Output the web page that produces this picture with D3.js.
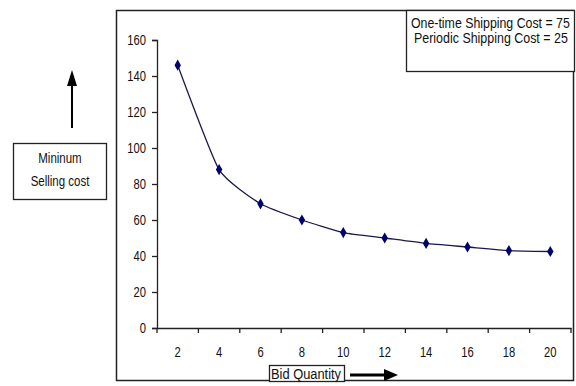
<!DOCTYPE html>
<html><head><meta charset="utf-8">
<script src="https://cdn.jsdelivr.net/npm/d3@7"></script>
<style>
html,body{margin:0;padding:0;background:#fff;}
svg text{font-family:"Liberation Sans","Arial",sans-serif;fill:#111;}
</style></head>
<body><svg id="c" width="576" height="386"></svg>
<script>
const categories = ["2","4","6","8","10","12","14","16","18","20"];
const values = [146, 88, 69, 60, 53, 50, 47, 45, 43, 42.5];
const yTicks = [0,20,40,60,80,100,120,140,160];
const legendLines = ["One-time Shipping Cost = 75","Periodic Shipping Cost = 25"];
const yLabelLines = ["Mininum","Selling cost"];
const xLabel = "Bid Quantity";

const svg = d3.select("#c");
const m = {left:157, right:571, top:40, bottom:328};
const FS = 14;

function condense(sel, k){
  sel.each(function(){
    const L = this.getComputedTextLength();
    d3.select(this).attr("textLength", L*k).attr("lengthAdjust","spacingAndGlyphs");
  });
}

// outer chart border
svg.append("rect").attr("x",116.5).attr("y",10.5).attr("width",457).attr("height",370)
  .attr("fill","none").attr("stroke","#222").attr("stroke-width",1.5);

const x = d3.scaleBand().domain(categories).range([m.left,m.right]);
const y = d3.scaleLinear().domain([0,160]).range([m.bottom,m.top]);

// y axis
const ya = svg.append("g").attr("transform",`translate(${m.left},0)`)
  .call(d3.axisLeft(y).tickValues(yTicks).tickSize(5).tickPadding(6));
ya.selectAll("text").attr("font-size",FS).call(condense,0.8);
ya.selectAll("path,line").attr("stroke","#222").attr("stroke-width",1.3);

// x axis
const xa = svg.append("g").attr("transform",`translate(0,${m.bottom})`)
  .call(d3.axisBottom(x).tickSize(0).tickPadding(19));
xa.selectAll("text").attr("font-size",FS).call(condense,0.8);
xa.select("path").attr("stroke","#222").attr("stroke-width",1.3);
const bounds = categories.map(c=>x(c)).concat([m.right]);
xa.selectAll("line.b").data(bounds).join("line").attr("class","b")
  .attr("x1",d=>d).attr("x2",d=>d).attr("y1",0).attr("y2",5)
  .attr("stroke","#222").attr("stroke-width",1.3);

// line
const pts = categories.map((c,i)=>[x(c)+x.bandwidth()/2, y(values[i])]);
svg.append("path").datum(pts)
  .attr("d", d3.line().curve(d3.curveCardinal.tension(0.5)))
  .attr("fill","none").attr("stroke","#1a1a4a").attr("stroke-width",1.3);
svg.selectAll("path.m").data(pts).join("path").attr("class","m")
  .attr("transform",d=>`translate(${d[0]},${d[1]})`)
  .attr("d", d3.symbol(d3.symbolDiamond,36))
  .attr("fill","#000070");

// legend box
svg.append("rect").attr("x",406.5).attr("y",10.5).attr("width",168).attr("height",61)
  .attr("fill","#fff").attr("stroke","#222").attr("stroke-width",1.3);
const lgX = [411,414], lgW = [159,154];
svg.selectAll("text.lg").data(legendLines).join("text").attr("class","lg")
  .attr("font-size",FS).text(d=>d)
  .each(function(d,i){
    const L = this.getComputedTextLength();
    d3.select(this).attr("transform",`translate(${lgX[i]},${28+i*15}) scale(${lgW[i]/L},1)`);
  });

// left label box + arrow
svg.append("rect").attr("x",13.5).attr("y",143.5).attr("width",93).attr("height",56)
  .attr("fill","#fff").attr("stroke","#222").attr("stroke-width",1.3);
svg.selectAll("text.yl").data(yLabelLines).join("text").attr("class","yl")
  .attr("x",60).attr("y",(d,i)=>163+i*23).attr("text-anchor","middle").attr("font-size",FS).text(d=>d)
  .call(condense,0.82);
svg.append("line").attr("x1",72).attr("x2",72).attr("y1",128).attr("y2",82)
  .attr("stroke","#000").attr("stroke-width",2);
svg.append("path").attr("d","M72,70 L67,86 L77,86 Z").attr("fill","#000");

// bottom label box + arrow
svg.append("rect").attr("x",269.5).attr("y",365.5).attr("width",75).attr("height",16)
  .attr("fill","#fff").attr("stroke","#222").attr("stroke-width",1.3);
svg.append("text").attr("x",271).attr("y",379).attr("font-size",FS).text(xLabel)
  .attr("textLength",70).attr("lengthAdjust","spacingAndGlyphs");
svg.append("line").attr("x1",350).attr("x2",386).attr("y1",375).attr("y2",375)
  .attr("stroke","#000").attr("stroke-width",3);
svg.append("path").attr("d","M398,375 L384,369 L384,381 Z").attr("fill","#000");
</script></body></html>
